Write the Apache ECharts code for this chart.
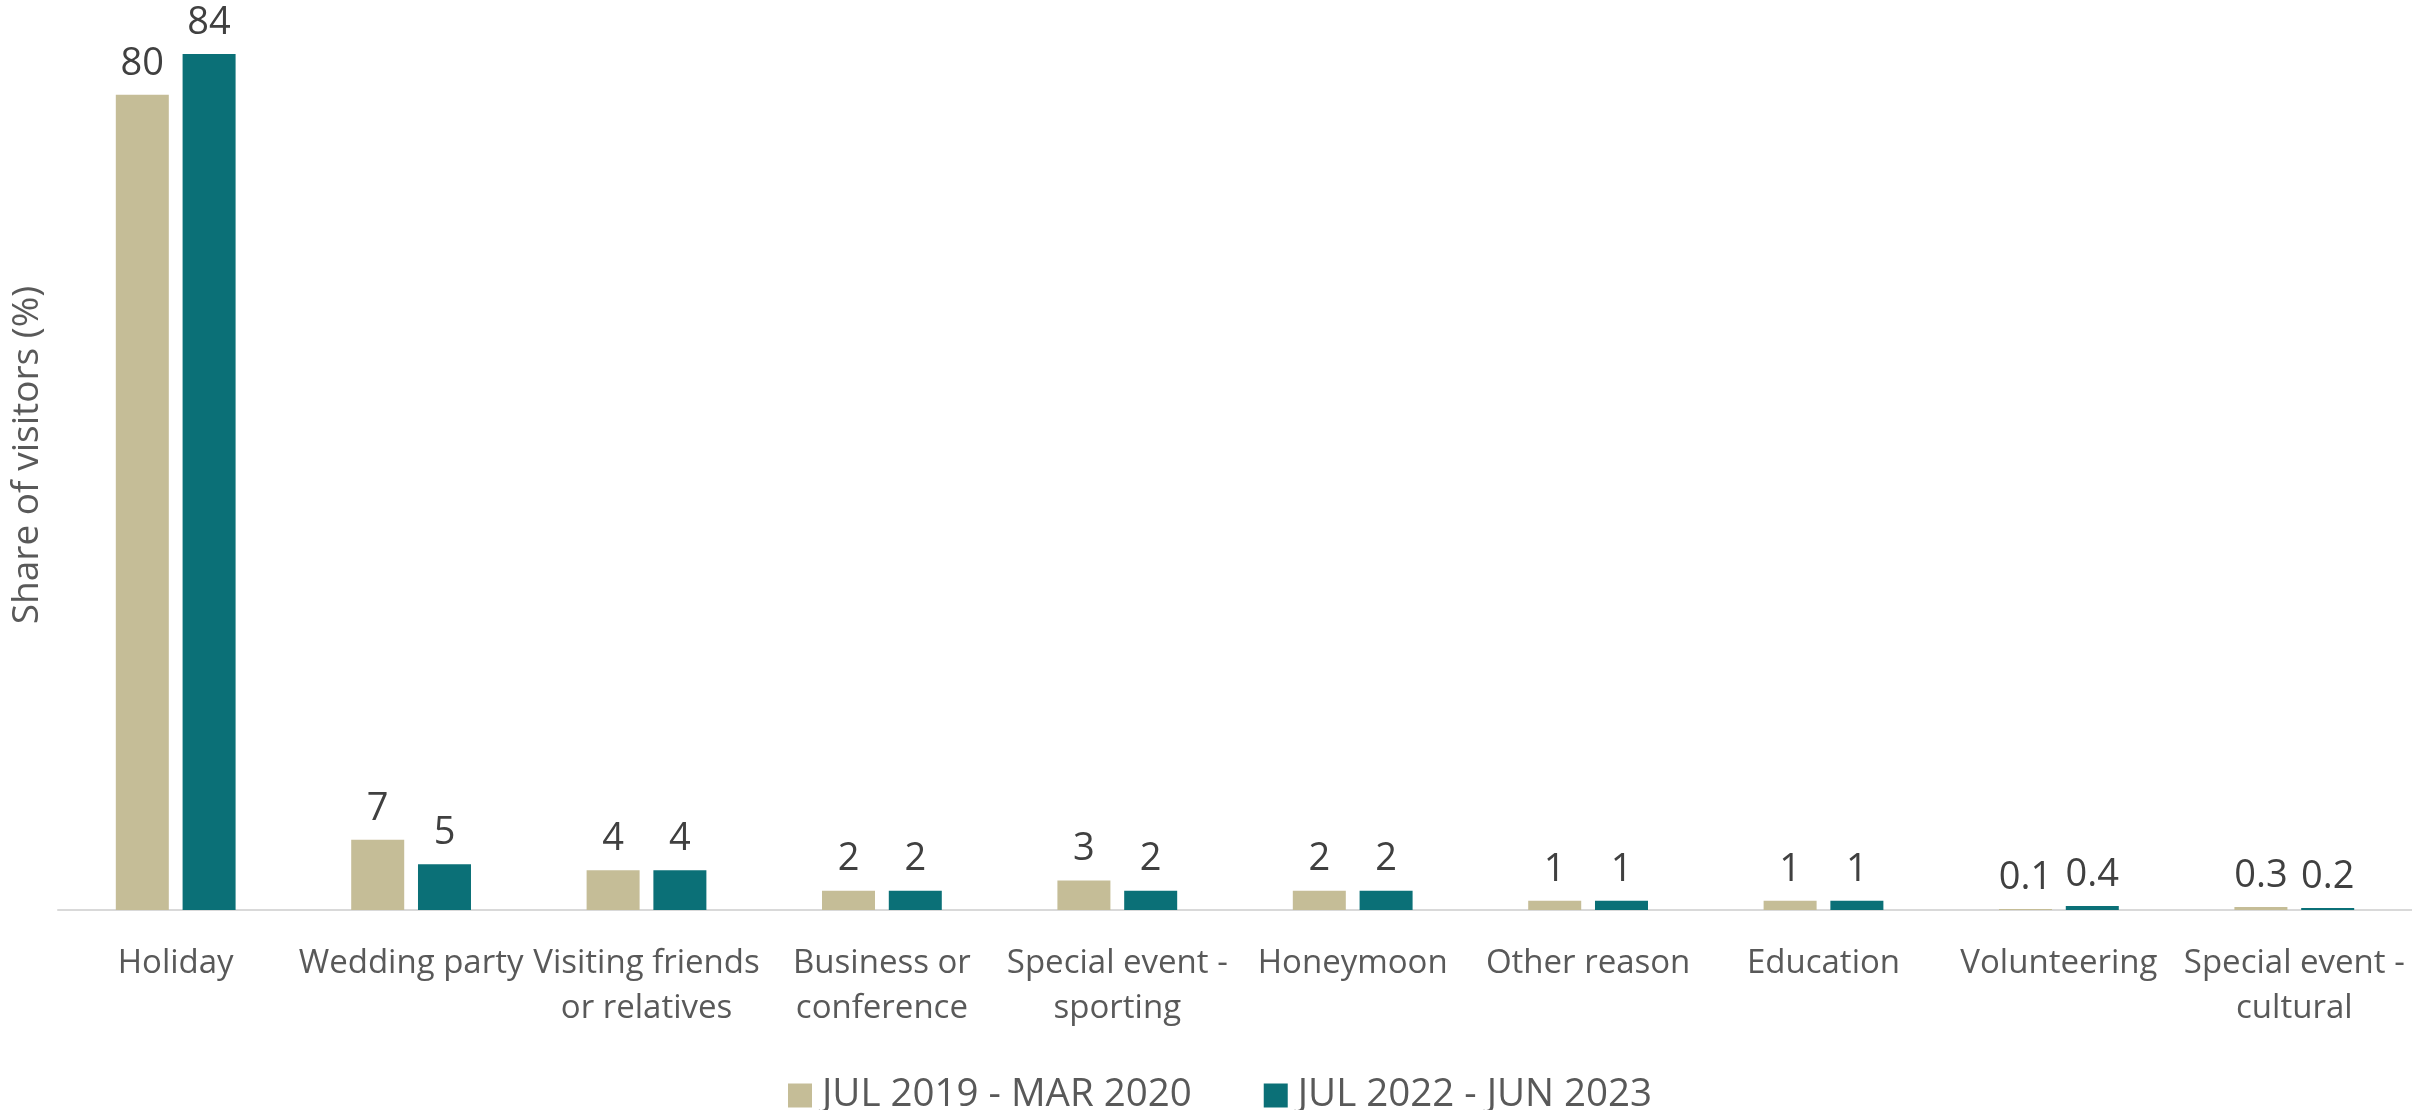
<!DOCTYPE html>
<html>
<head>
<meta charset="utf-8">
<script src="https://cdn.jsdelivr.net/npm/echarts@6/dist/echarts.min.js"></script>
<style>
html,body{margin:0;padding:0;background:#fff;}
#chart{width:2412px;height:1110px;}
</style>
</head>
<body>
<div id="chart"></div>
<script>
var categories = ["Holiday", "Wedding party", "Visiting friends\nor relatives", "Business or\nconference", "Special event -\nsporting", "Honeymoon", "Other reason", "Education", "Volunteering", "Special event -\ncultural"];
var seriesNames = ["JUL 2019 - MAR 2020", "JUL 2022 - JUN 2023"];
var values2019 = [80, 6.9, 3.9, 1.9, 2.9, 1.9, 0.9, 0.9, 0.1, 0.3];
var values2022 = [84, 4.5, 3.9, 1.9, 1.9, 1.9, 0.9, 0.9, 0.4, 0.2];
var colors = ["#C5BD97", "#0B7077"];

function fmt(p) {
  var v = p.value;
  return v < 0.5 ? v.toFixed(1) : String(Math.round(v));
}

var labelStyle = {
  show: true,
  position: 'top',
  distance: 12,
  fontFamily: 'Open Sans',
  fontSize: 38,
  color: '#404040',
  formatter: fmt
};

var chart = echarts.init(document.getElementById('chart'));
chart.setOption({
  animation: false,
  textStyle: { fontFamily: 'Open Sans' },
  grid: { left: 58, right: 0, top: 0, bottom: 200, containLabel: false },
  legend: {
    data: seriesNames,
    top: 1071,
    left: 783,
    itemWidth: 24,
    itemHeight: 24,
    itemGap: 72,
    icon: 'rect',
    textStyle: { fontFamily: 'Open Sans', fontSize: 38.5, color: '#595959', padding: [0,0,0,5] }
  },
  xAxis: {
    type: 'category',
    data: categories,
    axisLine: { show: true, lineStyle: { color: '#D9D9D9', width: 2 } },
    axisTick: { show: false },
    axisLabel: {
      interval: 0,
      margin: 31,
      fontFamily: 'Open Sans',
      fontSize: 33,
      lineHeight: 45,
      color: '#595959'
    }
  },
  yAxis: {
    type: 'value',
    min: 0,
    max: 89.3,
    axisLine: { show: false },
    axisTick: { show: false },
    axisLabel: { show: false },
    splitLine: { show: false },
    name: 'Share of visitors (%)',
    nameLocation: 'middle',
    nameGap: 12,
    nameTextStyle: { fontFamily: 'Open Sans', fontSize: 37, color: '#595959' }
  },
  series: [
    {
      name: seriesNames[0],
      type: 'bar',
      data: values2019,
      barWidth: 53,
      barGap: '26%',
      itemStyle: { color: colors[0] },
      label: labelStyle
    },
    {
      name: seriesNames[1],
      type: 'bar',
      data: values2022,
      barWidth: 53,
      barGap: '26%',
      itemStyle: { color: colors[1] },
      label: labelStyle
    }
  ]
});
</script>
</body>
</html>
